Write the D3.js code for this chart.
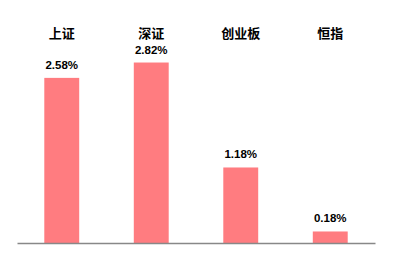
<!DOCTYPE html>
<html>
<head>
<meta charset="utf-8">
<script src="https://cdn.jsdelivr.net/npm/d3@7"></script>
<style>
  body { margin: 0; background: #fff; }
</style>
</head>
<body>
<svg id="chart"></svg>
<script>
const categories = ["上证", "深证", "创业板", "恒指"];
const values = [2.58, 2.82, 1.18, 0.18];
const labels = ["2.58%", "2.82%", "1.18%", "0.18%"];

const width = 397, height = 264;
const axisY = 243;

const svg = d3.select("#chart")
  .attr("width", width)
  .attr("height", height);

const x = d3.scaleBand()
  .domain(categories)
  .range([17, 375])
  .paddingInner(0.61)
  .paddingOuter(0.305);

const y = d3.scaleLinear()
  .domain([0, 3])
  .range([axisY, 51]);

// bars
svg.append("g")
  .selectAll("rect")
  .data(categories)
  .join("rect")
  .attr("x", d => x(d))
  .attr("y", (d, i) => y(values[i]))
  .attr("width", x.bandwidth())
  .attr("height", (d, i) => axisY - y(values[i]))
  .attr("fill", "#ff7c80");

// value labels
svg.append("g")
  .selectAll("text")
  .data(categories)
  .join("text")
  .attr("x", d => x(d) + x.bandwidth() / 2)
  .attr("y", (d, i) => y(values[i]) - 9)
  .attr("text-anchor", "middle")
  .attr("font-family", "Liberation Sans, Arial, sans-serif")
  .attr("font-weight", "bold")
  .attr("font-size", "11.5px")
  .attr("fill", "#000")
  .text((d, i) => labels[i]);

// category titles on top
svg.append("g")
  .selectAll("text")
  .data(categories)
  .join("text")
  .attr("x", d => x(d) + x.bandwidth() / 2)
  .attr("y", 38)
  .attr("text-anchor", "middle")
  .attr("font-family", "Noto Sans CJK SC, sans-serif")
  .attr("font-weight", "bold")
  .attr("font-size", "13px")
  .attr("fill", "#000")
  .text(d => d);

// baseline
const xAxis = svg.append("g")
  .attr("transform", `translate(0,${axisY})`)
  .call(d3.axisBottom(x).tickSize(0).tickFormat(""));
xAxis.select(".domain").attr("stroke", "#888").attr("stroke-width", 1.5);
</script>
</body>
</html>
